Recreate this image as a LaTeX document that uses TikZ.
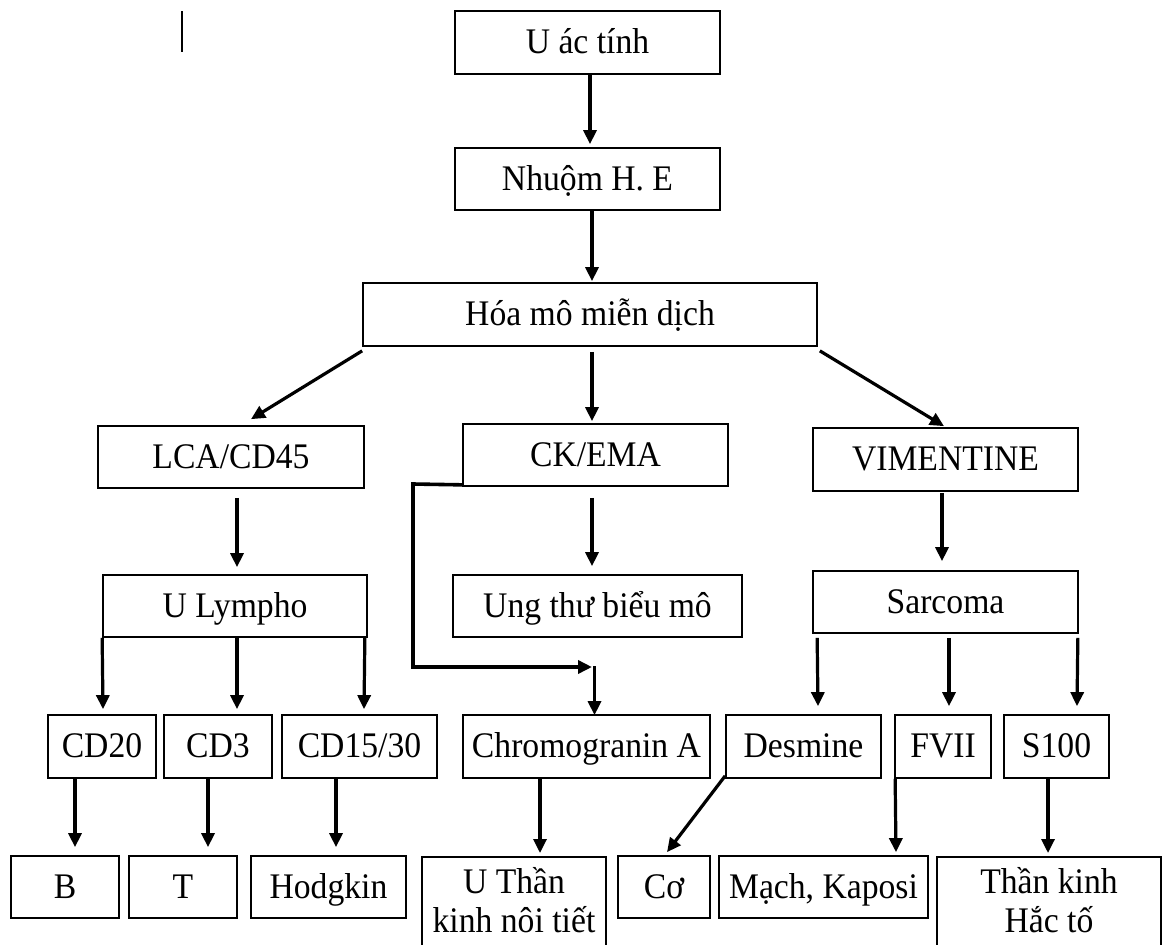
\documentclass[tikz,border=0pt]{standalone}
\usepackage{fontspec}
\setmainfont{Liberation Serif}[FakeStretch=0.935]
\usetikzlibrary{arrows.meta}
\tikzset{
  box/.style={draw, line width=1.7pt, inner sep=0pt, text height=23.8pt, text depth=1pt,
     font=\fontsize{36}{39}\selectfont},
  openbox/.style={draw, line width=1.7pt, inner sep=0pt, anchor=north},
  tline/.style={inner sep=0pt, anchor=base, font=\fontsize{36}{39}\selectfont},
  arr/.style={-{Triangle[length=14pt,width=13pt]}, line width=3.2pt},
  elbow/.style={line width=3.6pt},
  stray/.style={line width=1.4pt}
}
\begin{document}
\begin{tikzpicture}[x=1pt,y=-1pt]
\useasboundingbox (0,0) rectangle (1162,945);
\clip (0,0) rectangle (1162,945);
\fill[white] (0,0) rectangle (1162,945);

% stray mark
\coordinate (s1) at (182,11);
\coordinate (s2) at (182,52);
\draw[stray] (s1) -- (s2);

% level nodes
\node[box, minimum width=265, minimum height=63] (top) at (587.5,42.5) {U ác tính};
\node[box, minimum width=265, minimum height=62] (nhuom) at (587.5,179) {Nhuộm H. E};
\node[box, minimum width=454, minimum height=63] (hoa) at (590,314.5) {Hóa mô miễn dịch};

\node[box, minimum width=266, minimum height=62] (lca) at (231,457) {LCA/CD45};
\node[box, minimum width=265, minimum height=62] (ck) at (595.5,455) {CK/EMA};
\node[box, minimum width=265, minimum height=63] (vim) at (945.5,459.5) {VIMENTINE};

\node[box, minimum width=264, minimum height=62] (lympho) at (235,606) {U Lympho};
\node[box, minimum width=289, minimum height=62] (ungthu) at (597.5,606) {Ung thư biểu mô};
\node[box, minimum width=265, minimum height=62] (sarcoma) at (945.5,602) {Sarcoma};

\node[box, minimum width=108, minimum height=63] (cd20) at (102,746.5) {CD20};
\node[box, minimum width=108, minimum height=63] (cd3) at (218,746.5) {CD3};
\node[box, minimum width=155, minimum height=63] (cd15) at (359.5,746.5) {CD15/30};
\node[box, minimum width=247, minimum height=63] (chrom) at (586.5,746.5) {Chromogranin A};
\node[box, minimum width=155, minimum height=63] (desmine) at (803.5,746.5) {Desmine};
\node[box, minimum width=96, minimum height=63] (fvii) at (943,746.5) {FVII};
\node[box, minimum width=105, minimum height=63] (s100) at (1056.5,746.5) {S100};

\node[box, minimum width=108, minimum height=62] (b) at (65,887) {B};
\node[box, minimum width=108, minimum height=62] (t) at (183,887) {T};
\node[box, minimum width=155, minimum height=62] (hodgkin) at (328.5,887) {Hodgkin};
\node[openbox, minimum width=184, minimum height=130] (uthan) at (514,856) {};
\node[tline] (uthantxt) at (514,893) {\begin{tabular}[t]{@{}c@{}}U Thần\\kinh nôi tiết\end{tabular}};
\node[box, minimum width=92, minimum height=62] (co) at (664,887) {Cơ};
\node[box, minimum width=209, minimum height=62] (mach) at (823.5,887) {Mạch, Kaposi};
\node[openbox, minimum width=224, minimum height=130] (thankinh) at (1049,856) {};
\node[tline] (thankinhtxt) at (1049,893) {\begin{tabular}[t]{@{}c@{}}Thần kinh\\Hắc tố\end{tabular}};

% connectors
\draw[arr] ([shift={(2.5,0)}]top.south) -- ([shift={(2.5,-3)}]nhuom.north);
\draw[arr] ([shift={(4.5,0)}]nhuom.south) -- ([shift={(2,-1)}]hoa.north);

\draw[arr] ([shift={(0,4)}]hoa.south west) -- ([shift={(20,-6)}]lca.north);
\draw[arr] ([shift={(2,5)}]hoa.south) -- ([shift={(-3.5,-2)}]ck.north);
\draw[arr] ([shift={(2,4)}]hoa.south east) -- ([shift={(-1.5,-1)}]vim.north);

\draw[arr] ([shift={(6,9)}]lca.south) -- ([shift={(2,-7)}]lympho.north);
\draw[arr] ([shift={(-3.5,11)}]ck.south) -- ([shift={(-5.5,-8)}]ungthu.north);
\draw[arr] ([shift={(-3.5,1)}]vim.south) -- ([shift={(-3.5,-9)}]sarcoma.north);

\draw[arr] ([shift={(0,0)}]lympho.south west) -- ([shift={(1,-5)}]cd20.north);
\draw[arr] ([shift={(2,0)}]lympho.south) -- ([shift={(19,-5)}]cd3.north);
\draw[arr] ([shift={(-3,0)}]lympho.south east) -- ([shift={(4.5,-5)}]cd15.north);

\draw[arr] ([shift={(5,4)}]sarcoma.south west) -- ([shift={(14.5,-8)}]desmine.north);
\draw[arr] ([shift={(3.5,4)}]sarcoma.south) -- ([shift={(6,-8)}]fvii.north);
\draw[arr] ([shift={(-1,4)}]sarcoma.south east) -- ([shift={(20.5,-8)}]s100.north);

\draw[arr] ([shift={(-27,0)}]cd20.south) -- ([shift={(10,-8)}]b.north);
\draw[arr] ([shift={(-10,0)}]cd3.south) -- ([shift={(25,-8)}]t.north);
\draw[arr] ([shift={(-23.5,0)}]cd15.south) -- ([shift={(7.5,-8)}]hodgkin.north);
\draw[arr] ([shift={(-46.5,0)}]chrom.south) -- ([shift={(26,-3)}]uthan.north);
\draw[arr] ([shift={(0,-3)}]desmine.south west) -- ([shift={(3,-3)}]co.north);
\draw[arr] ([shift={(1,0)}]fvii.south west) -- ([shift={(72.5,-3)}]mach.north);
\draw[arr] ([shift={(-8.5,0)}]s100.south) -- ([shift={(-1,-3)}]thankinh.north);

% elbow connector CK/EMA -> Chromogranin A
\coordinate (e1) at (413,484);
\coordinate (e2) at (592,667);
\coordinate (e3) at (594.5,666);
\draw[elbow, -{Triangle[length=14pt,width=13pt]}] ([shift={(0,-2)}]ck.south west) -- (e1) |- (e2);
\draw[arr] (e3) -- ([shift={(8,1)}]chrom.north);
\end{tikzpicture}
\end{document}
